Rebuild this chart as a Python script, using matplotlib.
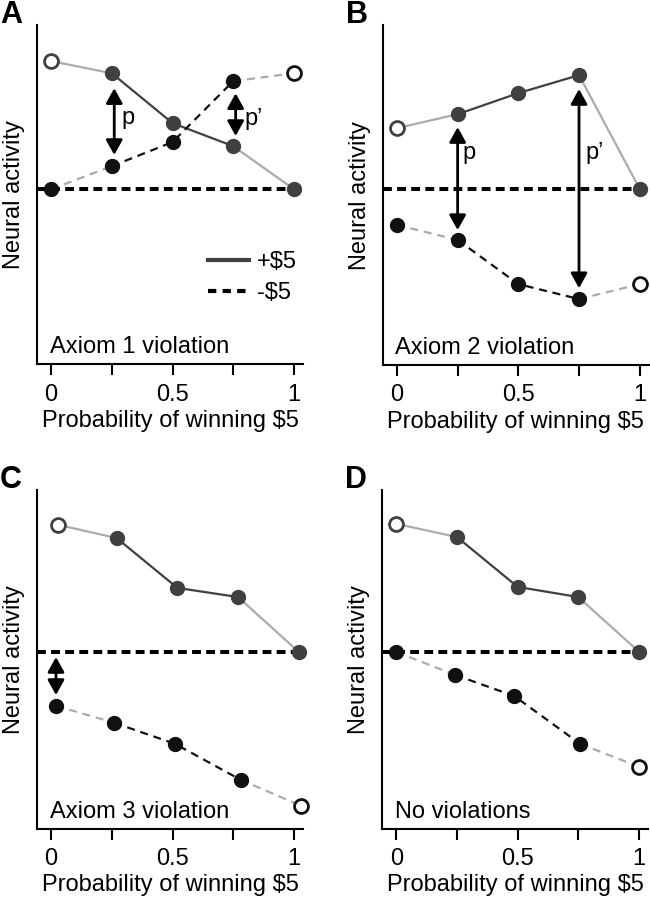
import numpy as np
import matplotlib
matplotlib.use('Agg')
from matplotlib import pyplot as plt
from matplotlib.lines import Line2D

plt.rcParams['font.family'] = ['Liberation Sans', 'DejaVu Sans']

# probabilities of winning $5
probs = [0, 0.25, 0.5, 0.75, 1]

# panel A - axiom 1 violation
a_gain = [8.94, 8.58, 7.11, 6.43, 5.16]
a_loss = [5.16, 5.84, 6.55, 8.35, 8.58]
a_arrows = [(0.26, 8.14, 6.17, 'p', 0.29, 7.26), (0.76, 7.99, 6.73, 'p\u2019', 0.795, 7.23)]

# panel B - axiom 2 violation
b_gain = [6.97, 7.38, 8.0, 8.53, 5.18]
b_loss = [4.12, 3.68, 2.38, 1.94, 2.38]
b_arrows = [(0.25, 7.0, 3.97, 'p', 0.27, 6.24), (0.75, 8.12, 2.26, 'p\u2019', 0.775, 6.24)]

# panel C - axiom 3 violation (points slightly shifted)
c_gain_x = [0.03, 0.27, 0.52, 0.77, 1.02]
c_loss_x = [0.02, 0.26, 0.51, 0.78, 1.03]
c_gain = [8.97, 8.58, 7.11, 6.84, 5.22]
c_loss = [3.63, 3.13, 2.51, 1.45, 0.68]
c_arrows = [(0.02, 5.07, 3.95, '', 0, 0)]

# panel D - no violations
d_loss_x = [0, 0.243, 0.486, 0.757, 1]
d_gain = [9.0, 8.61, 7.14, 6.84, 5.22]
d_loss = [5.22, 4.54, 3.92, 2.51, 1.83]

DARK = '#404040'
LIGHT = '#ababab'
BLACK = '#111111'
FS = 17


def draw_panel(ax, gx, gain, lx, loss, letter, note, arrows):
    base = gain[-1]
    ax.axhline(base, color='k', lw=2.9, dashes=(2.2, 1.3), zorder=1)
    # gain (+$5) line: ends light, middle dark
    ax.plot(gx[:2], gain[:2], color=LIGHT, lw=1.6, zorder=2)
    ax.plot(gx[1:4], gain[1:4], color=DARK, lw=1.6, zorder=2)
    ax.plot(gx[3:], gain[3:], color=LIGHT, lw=1.6, zorder=2)
    # loss (-$5) line
    ax.plot(lx[:2], loss[:2], color=LIGHT, lw=1.6, dashes=(3.6, 2.6), zorder=2)
    ax.plot(lx[1:4], loss[1:4], color=BLACK, lw=1.6, dashes=(3.6, 2.6), zorder=2)
    ax.plot(lx[3:], loss[3:], color=LIGHT, lw=1.6, dashes=(3.6, 2.6), zorder=2)
    # markers
    ax.plot(gx[1:], gain[1:], 'o', ms=10, color=DARK, mec=DARK, zorder=4, clip_on=False)
    ax.plot(gx[:1], gain[:1], 'o', ms=10, mfc='white', mec=DARK, mew=2, zorder=4, clip_on=False)
    ax.plot(lx[:-1], loss[:-1], 'o', ms=10, color=BLACK, mec=BLACK, zorder=4, clip_on=False)
    ax.plot(lx[-1:], loss[-1:], 'o', ms=10, mfc='white', mec=BLACK, mew=2, zorder=4, clip_on=False)

    for x, y1, y2, lab, tx, ty in arrows:
        ax.annotate('', xy=(x, y2), xytext=(x, y1),
                    arrowprops=dict(arrowstyle='<|-|>,head_length=0.45,head_width=0.25',
                                    color='k', lw=2, mutation_scale=20,
                                    shrinkA=0, shrinkB=0), zorder=3)
        if lab:
            ax.text(tx, ty, lab, fontsize=FS, va='center', ha='left')

    ax.set_xlim(-0.058, 1.037)
    ax.set_ylim(0, 10)
    ax.spines['top'].set_visible(False)
    ax.spines['right'].set_visible(False)
    ax.spines['left'].set_linewidth(1.5)
    ax.spines['bottom'].set_linewidth(1.5)
    ax.set_yticks([])
    ax.set_xticks(probs)
    ax.set_xticklabels(['0', '', '0.5', '', '1'])
    ax.tick_params(axis='x', direction='out', length=8, width=1.5, pad=6, labelsize=FS)
    ax.set_xlabel('Probability of winning $5', fontsize=FS, labelpad=3)
    ax.set_ylabel('Neural activity', fontsize=FS)
    ax.yaxis.set_label_coords(-0.045, 0.5)
    ax.text(0.047, 0.018, note, transform=ax.transAxes, fontsize=FS, ha='left', va='bottom')
    ax.text(-0.14, 1.075, letter, transform=ax.transAxes, fontsize=22, fontweight='bold',
            ha='left', va='top')


fig = plt.figure(figsize=(6.5, 8.99), dpi=100)
axA = fig.add_axes([0.057, 0.595, 0.409, 0.377])
axB = fig.add_axes([0.589, 0.594, 0.409, 0.378])
axC = fig.add_axes([0.057, 0.078, 0.409, 0.377])
axD = fig.add_axes([0.588, 0.078, 0.409, 0.377])

draw_panel(axA, probs, a_gain, probs, a_loss, 'A', 'Axiom 1 violation', a_arrows)
draw_panel(axB, probs, b_gain, probs, b_loss, 'B', 'Axiom 2 violation', b_arrows)
draw_panel(axC, c_gain_x, c_gain, c_loss_x, c_loss, 'C', 'Axiom 3 violation', c_arrows)
draw_panel(axD, probs, d_gain, d_loss_x, d_loss, 'D', 'No violations', [])

handles = [Line2D([0], [0], color=DARK, lw=3),
           Line2D([0], [0], color='k', lw=3, dashes=(2.0, 1.5))]
axA.legend(handles, ['+$5', '-$5'], loc='center left', bbox_to_anchor=(0.6, 0.255),
           frameon=False, fontsize=FS, handlelength=1.7, handletextpad=0.35,
           labelspacing=0.4, borderpad=0)

plt.savefig('out.png', dpi=100)
